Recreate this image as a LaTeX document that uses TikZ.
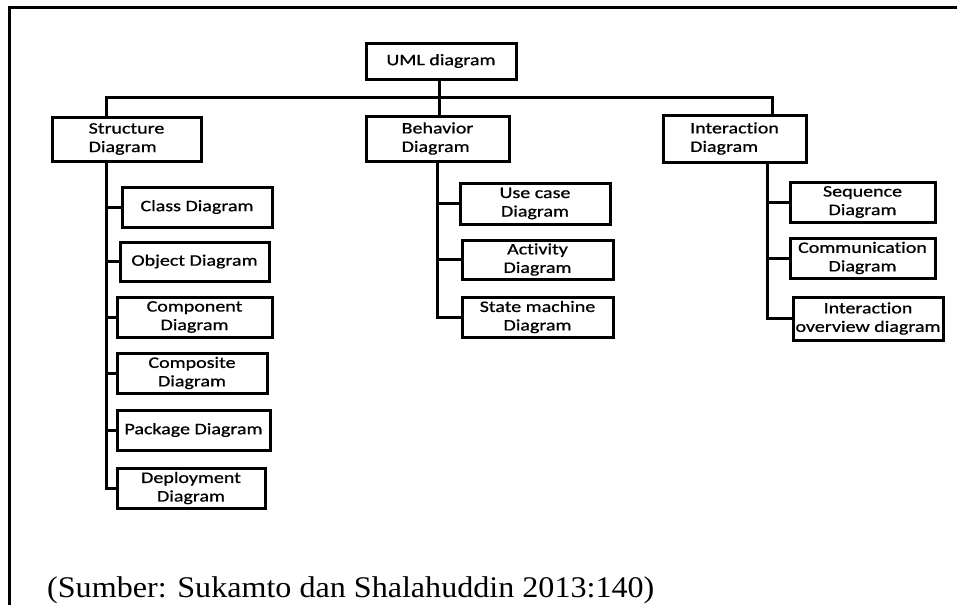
\documentclass[tikz,border=0pt]{standalone}
\usepackage{fontspec}
\setmainfont{Liberation Serif}
\newfontfamily\boxfont[FakeStretch=1.25,FakeBold=0.8,Ligatures=NoCommon]{Carlito}
\newfontfamily\srcfont[FakeStretch=1.07]{Liberation Serif}
\usepackage{tikz}
\usetikzlibrary{calc}
\tikzset{
    uml box/.style={draw=black, line width=3pt, inner sep=0pt, align=center,
      font=\boxfont\fontsize{16}{18.5}\selectfont},
    head box/.style={uml box, align=left},
    tree line/.style={draw=black, line width=3pt},
    frame line/.style={draw=black, line width=3pt}
}
\begin{document}
\begin{tikzpicture}[x=1pt,y=-1pt]
  \useasboundingbox (0,0) rectangle (957,605);

  % frame
  \coordinate (F0) at (957,7);
  \coordinate (F1) at (9,7);
  \coordinate (F2) at (9,605);
  \draw [frame line] (F0) -- (F1) -- (F2);

  % top
  \node [uml box, minimum width=150, minimum height=36] (uml) at (441,61) {UML diagram};
  \node [head box, minimum width=149, minimum height=44] (struct) at (126.5,139)
  {Structure\\Diagram};
  \node [head box, minimum width=143, minimum height=45] (behav) at (437.5,138.5)
  {Behavior\\Diagram};
  \node [head box, minimum width=143, minimum height=47] (inter) at (734.5,138.5)
  {Interaction\\Diagram};

  \coordinate (s drop) at ([xshift=-20.5]struct.north);
  \coordinate (b drop) at ([xshift=1.5]behav.north);
  \coordinate (i drop) at ([xshift=37.5]inter.north);
  \coordinate (bus) at ($(b drop)!0.5!(b drop |- uml.south)$);
  \draw [tree line] (uml.south -| b drop) -- (b drop);
  \draw [tree line] (s drop) |- (bus) -| (i drop);

  % structure
  \node [uml box, minimum width=150, minimum height=40] (class) at (197,207) {Class Diagram};
  \node [uml box, minimum width=149, minimum height=39] (object) at (194.5,261.5) {Object Diagram};
  \node [uml box, minimum width=155, minimum height=40] (comp) at (194.5,317) {Component\\Diagram};
  \node [uml box, minimum width=150, minimum height=40] (compo) at (192,373) {Composite\\Diagram};
  \node [uml box, minimum width=153, minimum height=40] (pack) at (193.5,430) {Package Diagram};
  \node [uml box, minimum width=148, minimum height=40] (deploy) at (191,488) {Deployment\\Diagram};

  \coordinate (s trunk) at ([xshift=-20.5]struct.south);
  \draw [tree line] (s trunk) |- (deploy.west);
  \foreach \n in {class,object,comp,compo,pack}
    \draw [tree line] (\n.west) -- (\n.west -| s trunk);

  % behavior
  \node [uml box, minimum width=150, minimum height=41] (usecase) at (535,203.5) {Use case\\Diagram};
  \node [uml box, minimum width=151, minimum height=39] (activity) at (537.5,259.5) {Activity\\Diagram};
  \node [uml box, minimum width=151, minimum height=40] (state) at (537.5,317) {State machine\\Diagram};

  \coordinate (b trunk) at ([xshift=-0.5]behav.south);
  \draw [tree line] (b trunk) |- (state.west);
  \foreach \n in {usecase,activity}
    \draw [tree line] (\n.west) -- (\n.west -| b trunk);

  % interaction
  \node [uml box, minimum width=145, minimum height=40] (seq) at (862.5,202) {Sequence\\Diagram};
  \node [uml box, minimum width=145, minimum height=40] (comm) at (862.5,258) {Communication\\Diagram};
  \node [uml box, minimum width=150, minimum height=43] (overview) at (868,318.5)
  {Interaction\\overview diagram};

  \coordinate (i trunk) at ([xshift=32.5]inter.south);
  \draw [tree line] (i trunk) |- (overview.west);
  \foreach \n in {seq,comm}
    \draw [tree line] (\n.west) -- (\n.west -| i trunk);

  % source
  \node [anchor=base west, inner sep=0pt, font=\srcfont\fontsize{30}{36}\selectfont] (src)
  at (47,597) {(Sumber: Sukamto dan Shalahuddin 2013:140)};
\end{tikzpicture}
\end{document}
